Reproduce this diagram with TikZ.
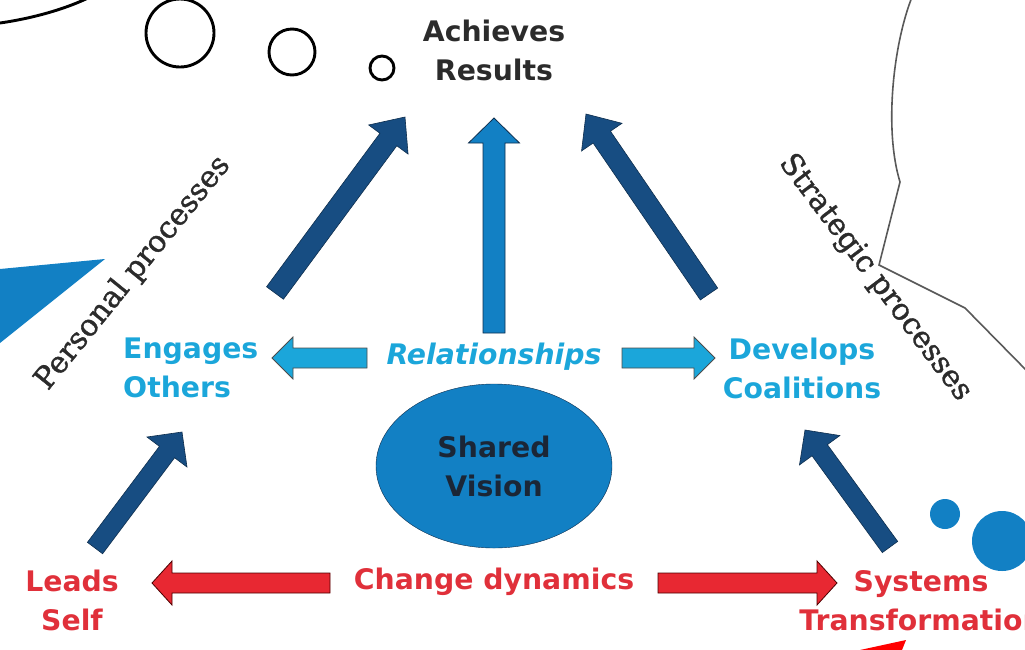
\documentclass[tikz,border=0pt]{standalone}
\usepackage{fontspec}
\setmainfont{DejaVu Sans}
\newfontfamily\sidefont[FakeBold=1.2]{DejaVu Serif}
\usetikzlibrary{calc, shapes.geometric}

\definecolor{navy}{RGB}{23,77,130}
\definecolor{midblue}{RGB}{18,128,196}
\definecolor{skyblue}{RGB}{27,166,218}
\definecolor{alertred}{RGB}{224,48,58}
\definecolor{arrowred}{RGB}{232,40,50}
\definecolor{inkgray}{RGB}{43,43,43}
\definecolor{inknavy}{RGB}{27,38,54}

% block arrow from tail #2 to tip #3: half shaft #4, half head #5, head length #6
\newcommand{\fatarrow}[6][]{%
    \coordinate (hb) at ($(#3)!#6!(#2)$);
    \draw[#1] ($(#2)!#4!90:(#3)$) -- ($(hb)!#4!90:(#3)$) -- ($(hb)!#5!90:(#3)$) -- (#3)
        -- ($(hb)!#5!-90:(#3)$) -- ($(hb)!#4!-90:(#3)$) -- ($(#2)!#4!-90:(#3)$) -- cycle;
}

\begin{document}
\begin{tikzpicture}[x=1pt, y=-1pt,
    word/.style={font=\fontsize{28.3}{39}\selectfont\bfseries, align=center, inner sep=0pt},
    side/.style={font=\fontsize{30}{36}\selectfont\sidefont, text=inkgray, inner sep=0pt},
    navyarrow/.style={fill=navy, draw=navy!60!black, line width=0.6pt},
    skyarrow/.style={fill=skyblue, draw=black!70, line width=0.8pt},
    redarrow/.style={fill=arrowred, draw=black!70!red, line width=0.8pt},
    bubble/.style={line width=2.9pt}]
    \useasboundingbox (0,0) rectangle (1025,649);

    % thought bubbles
    \draw[bubble] (0,23) .. controls (35,18) and (68,8) .. (90,-3);
    \foreach \cx/\cy/\r in {180/33/34, 292/52/23, 382/68/12} {
        \draw[bubble] (\cx,\cy) circle[radius=\r];
    }
    \draw[black!65, line width=1.6pt] (912,-3) .. controls (893,45) and (884,130) .. (900,182)
        -- (879,265) -- (965,308) -- (1028,372);

    % loose shapes at the edges
    \fill[midblue] (0,269) -- (105,259) -- (0,343) -- cycle;
    \fill[midblue] (945,514) circle[radius=15];
    \fill[midblue] (1002,541) circle[radius=30];
    \fill[red] (860,650) -- (906,640) -- (902,650) -- cycle;

    % labels
    \node[word, text=inkgray] (results) at (494,50) {Achieves\\Results};
    \node[word, text=skyblue, align=left, anchor=west] (engages) at (123,368) {Engages\\Others};
    \node[word, text=skyblue] (develops) at (802,368) {Develops\\Coalitions};
    \node[word, text=skyblue, font=\fontsize{28.3}{39}\selectfont\bfseries\itshape] (relations) at (494,357) {Relationships};
    \node[draw=navy!60!black, fill=midblue, ellipse, minimum width=236, minimum height=164,
        word, text=inknavy] (vision) at (494,466) {Shared\\Vision};
    \node[word, text=alertred] (leads) at (72,600) {Leads\\Self};
    \node[word, text=alertred] (change) at (494,582) {Change dynamics};
    \node[word, text=alertred] (systems) at (921,601) {Systems\\Transformation};
    \node[side, rotate=51] (personal) at (133,273) {Personal processes};
    \node[side, rotate=-53] (strategic) at (875,278) {Strategic processes};

    % arrow ends
    \coordinate (a1) at (275,293);  \coordinate (a1t) at (405,117);
    \coordinate (a2) at (709,294);  \coordinate (a2t) at (586,114);
    \coordinate (a3) at (494,333);  \coordinate (a3t) at (494,118);
    \coordinate (a4) at (95,548);   \coordinate (a4t) at (182,432);
    \coordinate (a5) at (890,547);  \coordinate (a5t) at (805,430);
    \coordinate (r1) at (367,358);  \coordinate (r1t) at (272,358);
    \coordinate (r2) at (622,358);  \coordinate (r2t) at (715,358);
    \coordinate (c1) at (330,583);  \coordinate (c1t) at (152,583);
    \coordinate (c2) at (658,583);  \coordinate (c2t) at (837,583);

    \fatarrow[navyarrow]{a1}{a1t}{10.5pt}{24.5pt}{28pt}
    \fatarrow[navyarrow]{a2}{a2t}{10.5pt}{24.5pt}{28pt}
    \fatarrow[fill=midblue, draw=navy!60!black, line width=0.8pt]{a3}{a3t}{11pt}{25.5pt}{25pt}
    \fatarrow[navyarrow]{a4}{a4t}{9.5pt}{25pt}{25pt}
    \fatarrow[navyarrow]{a5}{a5t}{9.5pt}{25pt}{25pt}
    \fatarrow[skyarrow]{r1}{r1t}{10pt}{21pt}{21pt}
    \fatarrow[skyarrow]{r2}{r2t}{10pt}{21pt}{21pt}
    \fatarrow[redarrow]{c1}{c1t}{10pt}{22pt}{20pt}
    \fatarrow[redarrow]{c2}{c2t}{10pt}{22pt}{20pt}
\end{tikzpicture}
\end{document}
